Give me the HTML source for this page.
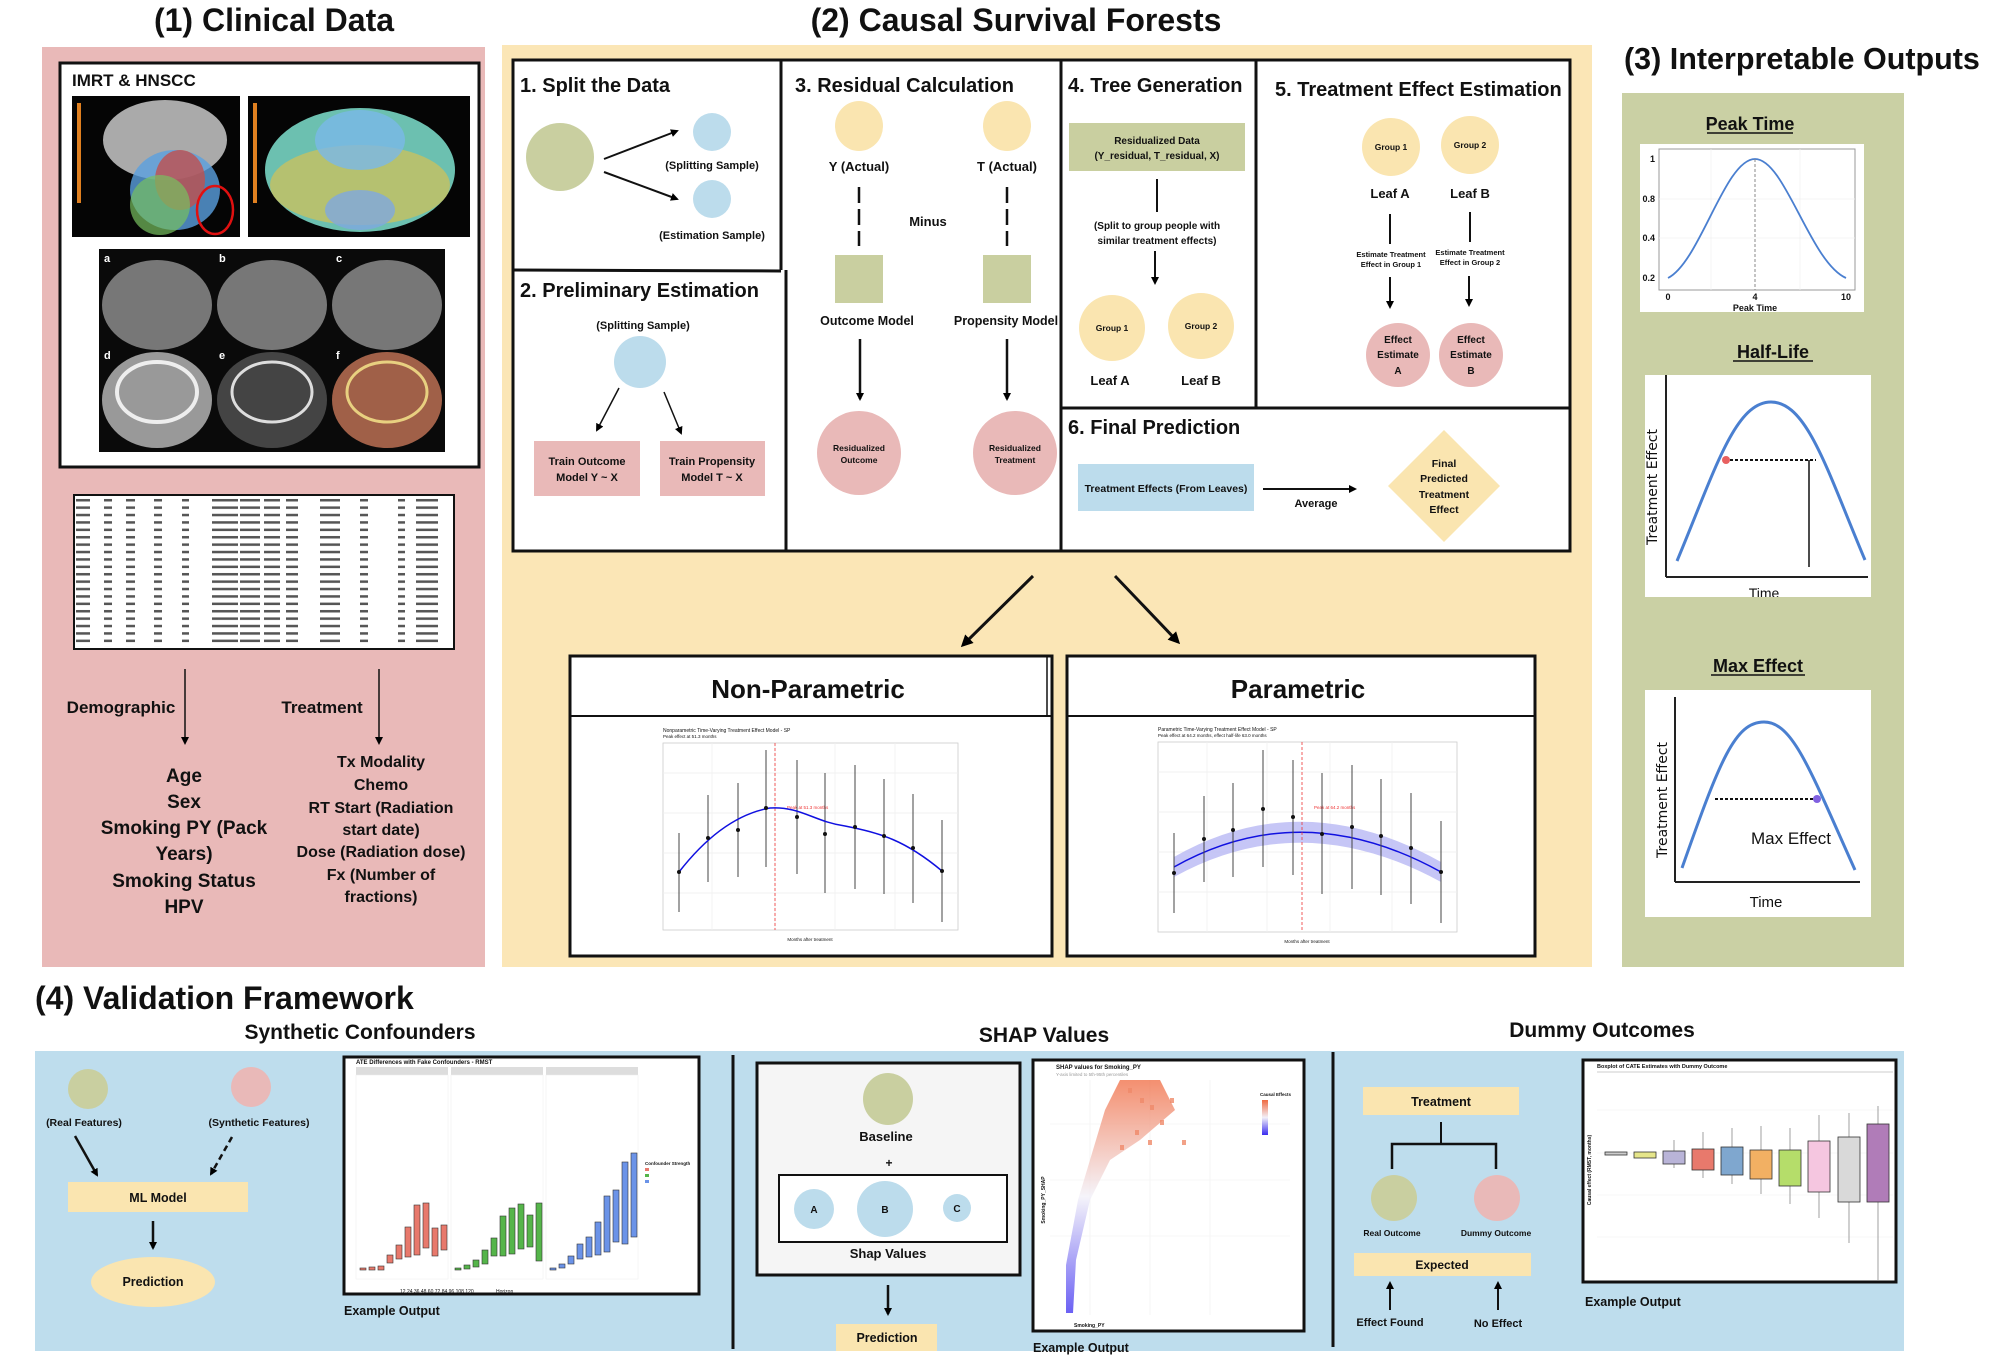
<!DOCTYPE html>
<html><head><meta charset="utf-8"><style>
html,body{margin:0;padding:0;background:#fff;}
svg{display:block;}
text{font-family:"Liberation Sans",Arial,sans-serif;font-weight:bold;fill:#111;}
</style></head><body>
<svg width="2006" height="1364" viewBox="0 0 2006 1364" xmlns="http://www.w3.org/2000/svg">
<defs>
<marker id="ah" markerWidth="8" markerHeight="8" refX="6" refY="4" orient="auto" markerUnits="userSpaceOnUse"><path d="M0,0 L8,4 L0,8 z" fill="#000"/></marker>
<marker id="ahb" markerWidth="12" markerHeight="12" refX="9" refY="6" orient="auto" markerUnits="userSpaceOnUse"><path d="M0,0 L12,6 L0,12 z" fill="#000"/></marker>
<pattern id="tbl" x="74" y="497" width="380" height="7.4" patternUnits="userSpaceOnUse">
<rect x="2" y="2" width="14" height="2.5" fill="#555"/><rect x="30" y="2" width="8" height="2.5" fill="#555"/><rect x="52" y="2" width="9" height="2.5" fill="#555"/><rect x="80" y="2" width="8" height="2.5" fill="#555"/><rect x="108" y="2" width="7" height="2.5" fill="#555"/><rect x="138" y="2" width="26" height="2.5" fill="#555"/><rect x="166" y="2" width="20" height="2.5" fill="#555"/><rect x="190" y="2" width="16" height="2.5" fill="#555"/><rect x="212" y="2" width="12" height="2.5" fill="#555"/><rect x="246" y="2" width="20" height="2.5" fill="#555"/><rect x="286" y="2" width="8" height="2.5" fill="#555"/><rect x="324" y="2" width="7" height="2.5" fill="#555"/><rect x="342" y="2" width="22" height="2.5" fill="#555"/>
</pattern>
<linearGradient id="sg" x1="0" y1="1" x2="0" y2="0"><stop offset="0" stop-color="#3a2cf0"/><stop offset="0.5" stop-color="#f2f0f8"/><stop offset="1" stop-color="#f06a40"/></linearGradient>
</defs>

<!-- Titles -->
<text x="274" y="31" font-size="32" text-anchor="middle">(1) Clinical Data</text>
<text x="1016" y="31" font-size="32" text-anchor="middle">(2) Causal Survival Forests</text>
<text x="1624" y="69" font-size="30.5">(3) Interpretable Outputs</text>
<text x="35" y="1009" font-size="32">(4) Validation Framework</text>

<!-- Panels -->
<rect x="42" y="47" width="443" height="920" fill="#e9b9b8"/>
<rect x="502" y="45" width="1090" height="922" fill="#fbe6b6"/>
<rect x="1622" y="93" width="282" height="874" fill="#cad0a4"/>
<rect x="35" y="1051" width="1869" height="300" fill="#bedded"/>

<!-- ===== Panel 1 ===== -->
<rect x="60" y="63" width="419" height="404" fill="#fff" stroke="#111" stroke-width="3"/>
<text x="72" y="86" font-size="17">IMRT &amp; HNSCC</text>
<rect x="72" y="96" width="168" height="141" fill="#050505"/>
<ellipse cx="165" cy="140" rx="62" ry="40" fill="#aaa"/>
<ellipse cx="175" cy="190" rx="45" ry="40" fill="#5aa0e0" opacity="0.8"/>
<ellipse cx="180" cy="180" rx="25" ry="30" fill="#c0504d" opacity="0.8"/>
<ellipse cx="160" cy="205" rx="30" ry="30" fill="#78c060" opacity="0.7"/>
<ellipse cx="215" cy="210" rx="18" ry="24" fill="none" stroke="#e01010" stroke-width="2.5"/>
<rect x="77" y="103" width="4" height="100" fill="#e08020"/>
<rect x="248" y="96" width="222" height="141" fill="#050505"/>
<ellipse cx="360" cy="170" rx="95" ry="62" fill="#6cc0b0"/>
<ellipse cx="360" cy="185" rx="90" ry="40" fill="#c8c060" opacity="0.8"/>
<ellipse cx="360" cy="140" rx="45" ry="30" fill="#7ab8e8" opacity="0.8"/>
<ellipse cx="360" cy="210" rx="35" ry="20" fill="#7fa8e0" opacity="0.8"/>
<rect x="253" y="103" width="4" height="100" fill="#e08020"/>
<rect x="99" y="249" width="346" height="203" fill="#0a0a0a"/>
<ellipse cx="157" cy="305" rx="55" ry="45" fill="#777"/><ellipse cx="272" cy="305" rx="55" ry="45" fill="#777"/><ellipse cx="387" cy="305" rx="55" ry="45" fill="#777"/>
<ellipse cx="157" cy="400" rx="55" ry="48" fill="#999"/><ellipse cx="272" cy="400" rx="55" ry="48" fill="#444"/><ellipse cx="387" cy="400" rx="55" ry="48" fill="#a06048"/>
<ellipse cx="157" cy="392" rx="40" ry="30" fill="none" stroke="#eee" stroke-width="4"/><ellipse cx="272" cy="392" rx="40" ry="30" fill="none" stroke="#ddd" stroke-width="3"/><ellipse cx="387" cy="392" rx="40" ry="30" fill="none" stroke="#e8d080" stroke-width="3"/>
<text x="104" y="262" font-size="11" style="fill:#fff">a</text><text x="219" y="262" font-size="11" style="fill:#fff">b</text><text x="336" y="262" font-size="11" style="fill:#fff">c</text>
<text x="104" y="359" font-size="11" style="fill:#fff">d</text><text x="219" y="359" font-size="11" style="fill:#fff">e</text><text x="336" y="359" font-size="11" style="fill:#fff">f</text>
<rect x="74" y="495" width="380" height="154" fill="#fff" stroke="#111" stroke-width="2"/>
<rect x="75" y="497" width="378" height="150" fill="url(#tbl)"/>
<line x1="185" y1="669" x2="185" y2="743" stroke="#111" stroke-width="1.5" marker-end="url(#ah)"/>
<line x1="379" y1="669" x2="379" y2="743" stroke="#111" stroke-width="1.5" marker-end="url(#ah)"/>
<text x="121" y="713" font-size="17" text-anchor="middle">Demographic</text>
<text x="322" y="713" font-size="17" text-anchor="middle">Treatment</text>
<g font-size="19" text-anchor="middle">
<text x="184" y="782">Age</text><text x="184" y="808">Sex</text><text x="184" y="834">Smoking PY (Pack</text><text x="184" y="860">Years)</text><text x="184" y="887">Smoking Status</text><text x="184" y="913">HPV</text>
</g>
<g font-size="16" text-anchor="middle">
<text x="381" y="767">Tx Modality</text><text x="381" y="790">Chemo</text><text x="381" y="813">RT Start (Radiation</text><text x="381" y="835">start date)</text><text x="381" y="857">Dose (Radiation dose)</text><text x="381" y="880">Fx (Number of</text><text x="381" y="902">fractions)</text>
</g>

<!-- ===== Panel 2 ===== -->
<rect x="513" y="60" width="1057" height="491" fill="#fff" stroke="#111" stroke-width="3"/>
<line x1="781" y1="60" x2="781" y2="270" stroke="#111" stroke-width="3"/>
<line x1="786" y1="270" x2="786" y2="551" stroke="#111" stroke-width="3"/>
<line x1="513" y1="270" x2="781" y2="271" stroke="#111" stroke-width="3"/>
<line x1="1061" y1="60" x2="1061" y2="551" stroke="#111" stroke-width="3"/>
<line x1="1256" y1="60" x2="1256" y2="408" stroke="#111" stroke-width="3"/>
<line x1="1061" y1="408" x2="1570" y2="408" stroke="#111" stroke-width="3"/>

<text x="520" y="92" font-size="20">1. Split the Data</text>
<circle cx="560" cy="157" r="34" fill="#c9cfa0"/>
<circle cx="712" cy="132" r="19" fill="#bcdcec"/>
<circle cx="712" cy="199" r="19" fill="#bcdcec"/>
<line x1="604" y1="159" x2="677" y2="131" stroke="#111" stroke-width="2" marker-end="url(#ah)"/>
<line x1="604" y1="172" x2="677" y2="199" stroke="#111" stroke-width="2" marker-end="url(#ah)"/>
<text x="712" y="169" font-size="11" text-anchor="middle">(Splitting Sample)</text>
<text x="712" y="239" font-size="11" text-anchor="middle">(Estimation Sample)</text>

<text x="520" y="297" font-size="20">2. Preliminary Estimation</text>
<text x="643" y="329" font-size="11" text-anchor="middle">(Splitting Sample)</text>
<ellipse cx="640" cy="362" rx="26" ry="26" fill="#bcdcec"/>
<line x1="619" y1="388" x2="597" y2="430" stroke="#111" stroke-width="1.5" marker-end="url(#ah)"/>
<line x1="664" y1="392" x2="681" y2="433" stroke="#111" stroke-width="1.5" marker-end="url(#ah)"/>
<rect x="534" y="441" width="106" height="55" fill="#e9b9b8"/>
<rect x="660" y="441" width="105" height="55" fill="#e9b9b8"/>
<g font-size="11" text-anchor="middle"><text x="587" y="465">Train Outcome</text><text x="587" y="481">Model Y ~ X</text><text x="712" y="465">Train Propensity</text><text x="712" y="481">Model T ~ X</text></g>

<text x="795" y="92" font-size="20">3. Residual Calculation</text>
<ellipse cx="859" cy="126" rx="24" ry="25" fill="#fae5b0"/>
<ellipse cx="1007" cy="126" rx="24" ry="25" fill="#fae5b0"/>
<text x="859" y="171" font-size="13" text-anchor="middle">Y (Actual)</text>
<text x="1007" y="171" font-size="13" text-anchor="middle">T (Actual)</text>
<line x1="859" y1="187" x2="859" y2="246" stroke="#111" stroke-width="2.5" stroke-dasharray="16,6"/>
<line x1="1007" y1="187" x2="1007" y2="246" stroke="#111" stroke-width="2.5" stroke-dasharray="16,6"/>
<text x="928" y="226" font-size="13" text-anchor="middle">Minus</text>
<rect x="835" y="255" width="48" height="48" fill="#c9cfa0"/>
<rect x="983" y="255" width="48" height="48" fill="#c9cfa0"/>
<text x="867" y="325" font-size="12.5" text-anchor="middle">Outcome Model</text>
<text x="1006" y="325" font-size="12.5" text-anchor="middle">Propensity Model</text>
<line x1="860" y1="339" x2="860" y2="399" stroke="#111" stroke-width="2.5" marker-end="url(#ah)"/>
<line x1="1007" y1="339" x2="1007" y2="399" stroke="#111" stroke-width="2.5" marker-end="url(#ah)"/>
<circle cx="859" cy="453" r="42" fill="#e9b9b8"/>
<circle cx="1015" cy="453" r="42" fill="#e9b9b8"/>
<g font-size="8.5" text-anchor="middle"><text x="859" y="451">Residualized</text><text x="859" y="463">Outcome</text><text x="1015" y="451">Residualized</text><text x="1015" y="463">Treatment</text></g>

<text x="1068" y="92" font-size="20">4. Tree Generation</text>
<rect x="1069" y="123" width="176" height="48" fill="#c9cfa0"/>
<g font-size="10" text-anchor="middle"><text x="1157" y="144">Residualized Data</text><text x="1157" y="159">(Y_residual, T_residual, X)</text>
<text x="1157" y="229">(Split to group people with</text><text x="1157" y="244">similar treatment effects)</text></g>
<line x1="1157" y1="179" x2="1157" y2="212" stroke="#111" stroke-width="2"/>
<line x1="1155" y1="251" x2="1155" y2="283" stroke="#111" stroke-width="2" marker-end="url(#ah)"/>
<circle cx="1112" cy="328" r="33" fill="#fae5b0"/>
<circle cx="1201" cy="326" r="33" fill="#fae5b0"/>
<g font-size="8.5" text-anchor="middle"><text x="1112" y="331">Group 1</text><text x="1201" y="329">Group 2</text></g>
<text x="1110" y="385" font-size="13" text-anchor="middle">Leaf A</text>
<text x="1201" y="385" font-size="13" text-anchor="middle">Leaf B</text>

<text x="1275" y="96" font-size="20">5. Treatment Effect Estimation</text>
<ellipse cx="1391" cy="147" rx="29" ry="29" fill="#fae5b0"/>
<ellipse cx="1470" cy="145" rx="29" ry="29" fill="#fae5b0"/>
<g font-size="8.5" text-anchor="middle"><text x="1391" y="150">Group 1</text><text x="1470" y="148">Group 2</text></g>
<text x="1390" y="198" font-size="13" text-anchor="middle">Leaf A</text>
<text x="1470" y="198" font-size="13" text-anchor="middle">Leaf B</text>
<line x1="1390" y1="214" x2="1390" y2="244" stroke="#111" stroke-width="2"/>
<line x1="1470" y1="212" x2="1470" y2="242" stroke="#111" stroke-width="2"/>
<g font-size="7.5" text-anchor="middle"><text x="1391" y="257">Estimate Treatment</text><text x="1391" y="267">Effect in Group 1</text><text x="1470" y="255">Estimate Treatment</text><text x="1470" y="265">Effect in Group 2</text></g>
<line x1="1390" y1="277" x2="1390" y2="307" stroke="#111" stroke-width="2" marker-end="url(#ah)"/>
<line x1="1469" y1="276" x2="1469" y2="305" stroke="#111" stroke-width="2" marker-end="url(#ah)"/>
<circle cx="1398" cy="355" r="32" fill="#e9b9b8"/>
<circle cx="1471" cy="355" r="32" fill="#e9b9b8"/>
<g font-size="10" text-anchor="middle"><text x="1398" y="343">Effect</text><text x="1398" y="358">Estimate</text><text x="1398" y="374">A</text><text x="1471" y="343">Effect</text><text x="1471" y="358">Estimate</text><text x="1471" y="374">B</text></g>

<text x="1068" y="434" font-size="20">6. Final Prediction</text>
<rect x="1078" y="464" width="176" height="47" fill="#bcdcec"/>
<text x="1166" y="492" font-size="10.5" text-anchor="middle">Treatment Effects (From Leaves)</text>
<line x1="1263" y1="489" x2="1355" y2="489" stroke="#111" stroke-width="2" marker-end="url(#ah)"/>
<text x="1316" y="507" font-size="11" text-anchor="middle">Average</text>
<polygon points="1444,430 1500,486 1444,542 1388,486" fill="#fae5b0"/>
<g font-size="10.5" text-anchor="middle"><text x="1444" y="467">Final</text><text x="1444" y="482">Predicted</text><text x="1444" y="498">Treatment</text><text x="1444" y="513">Effect</text></g>

<line x1="1033" y1="576" x2="963" y2="645" stroke="#111" stroke-width="3" marker-end="url(#ahb)"/>
<line x1="1115" y1="576" x2="1178" y2="642" stroke="#111" stroke-width="3" marker-end="url(#ahb)"/>

<!-- Non-parametric -->
<rect x="570" y="656" width="482" height="300" fill="#fff" stroke="#111" stroke-width="3"/>
<line x1="570" y1="716" x2="1052" y2="716" stroke="#111" stroke-width="2"/>
<line x1="1047" y1="656" x2="1047" y2="716" stroke="#111" stroke-width="1.5"/>
<text x="808" y="698" font-size="26" text-anchor="middle">Non-Parametric</text>
<text x="663" y="732" font-size="5" style="font-weight:normal">Nonparametric Time-Varying Treatment Effect Model - SP</text>
<text x="663" y="738" font-size="4.5" style="font-weight:normal">Peak effect at 51.3 months</text>
<rect x="663" y="743" width="295" height="187" fill="#fff" stroke="#ccc" stroke-width="0.8"/>
<g stroke="#eee" stroke-width="0.7"><line x1="663" y1="773" x2="958" y2="773"/><line x1="663" y1="813" x2="958" y2="813"/><line x1="663" y1="853" x2="958" y2="853"/><line x1="663" y1="893" x2="958" y2="893"/><line x1="712" y1="743" x2="712" y2="930"/><line x1="775" y1="743" x2="775" y2="930"/><line x1="835" y1="743" x2="835" y2="930"/><line x1="895" y1="743" x2="895" y2="930"/></g>
<line x1="775" y1="743" x2="775" y2="930" stroke="#e33" stroke-width="0.8" stroke-dasharray="3,2"/>
<text x="787" y="809" font-size="4.5" style="fill:#e33;font-weight:normal">Peak at 51.3 months</text>
<g stroke="#444" stroke-width="1">
<line x1="679" y1="833" x2="679" y2="912"/><line x1="708" y1="795" x2="708" y2="882"/><line x1="738" y1="783" x2="738" y2="877"/><line x1="766" y1="750" x2="766" y2="867"/><line x1="797" y1="760" x2="797" y2="874"/><line x1="825" y1="773" x2="825" y2="893"/><line x1="855" y1="765" x2="855" y2="889"/><line x1="884" y1="779" x2="884" y2="894"/><line x1="913" y1="794" x2="913" y2="903"/><line x1="942" y1="820" x2="942" y2="922"/>
</g>
<path d="M679,872 C700,845 730,815 770,808 C800,806 815,822 845,826 C880,833 905,840 942,871" fill="none" stroke="#1010e0" stroke-width="1.5"/>
<g fill="#111"><circle cx="679" cy="872" r="2"/><circle cx="708" cy="838" r="2"/><circle cx="738" cy="830" r="2"/><circle cx="766" cy="808" r="2"/><circle cx="797" cy="817" r="2"/><circle cx="825" cy="834" r="2"/><circle cx="855" cy="827" r="2"/><circle cx="884" cy="836" r="2"/><circle cx="913" cy="848" r="2"/><circle cx="942" cy="871" r="2"/></g>
<text x="810" y="941" font-size="4.5" text-anchor="middle" style="font-weight:normal">Months after treatment</text>

<!-- Parametric -->
<rect x="1067" y="656" width="468" height="300" fill="#fff" stroke="#111" stroke-width="3"/>
<line x1="1067" y1="716" x2="1535" y2="716" stroke="#111" stroke-width="2"/>
<text x="1298" y="698" font-size="26" text-anchor="middle">Parametric</text>
<text x="1158" y="731" font-size="5" style="font-weight:normal">Parametric Time-Varying Treatment Effect Model - SP</text>
<text x="1158" y="737" font-size="4.5" style="font-weight:normal">Peak effect at 64.2 months, effect half-life 63.0 months</text>
<rect x="1158" y="742" width="299" height="190" fill="#fff" stroke="#ccc" stroke-width="0.8"/>
<g stroke="#eee" stroke-width="0.7"><line x1="1158" y1="772" x2="1457" y2="772"/><line x1="1158" y1="812" x2="1457" y2="812"/><line x1="1158" y1="852" x2="1457" y2="852"/><line x1="1158" y1="892" x2="1457" y2="892"/><line x1="1207" y1="742" x2="1207" y2="932"/><line x1="1267" y1="742" x2="1267" y2="932"/><line x1="1330" y1="742" x2="1330" y2="932"/><line x1="1392" y1="742" x2="1392" y2="932"/></g>
<path d="M1174,857 Q1302,784 1441,862 L1441,882 Q1302,806 1174,877 Z" fill="#b8b8f4" opacity="0.8"/>
<path d="M1174,867 Q1302,795 1441,872" fill="none" stroke="#1010e0" stroke-width="1.5"/>
<line x1="1302" y1="742" x2="1302" y2="932" stroke="#e33" stroke-width="0.8" stroke-dasharray="3,2"/>
<text x="1314" y="809" font-size="4.5" style="fill:#e33;font-weight:normal">Peak at 64.2 months</text>
<g stroke="#444" stroke-width="1">
<line x1="1174" y1="833" x2="1174" y2="913"/><line x1="1204" y1="796" x2="1204" y2="882"/><line x1="1233" y1="783" x2="1233" y2="877"/><line x1="1263" y1="750" x2="1263" y2="867"/><line x1="1293" y1="760" x2="1293" y2="875"/><line x1="1322" y1="773" x2="1322" y2="894"/><line x1="1352" y1="765" x2="1352" y2="889"/><line x1="1381" y1="779" x2="1381" y2="895"/><line x1="1411" y1="793" x2="1411" y2="904"/><line x1="1441" y1="821" x2="1441" y2="923"/>
</g>
<g fill="#111"><circle cx="1174" cy="873" r="2"/><circle cx="1204" cy="839" r="2"/><circle cx="1233" cy="830" r="2"/><circle cx="1263" cy="809" r="2"/><circle cx="1293" cy="817" r="2"/><circle cx="1322" cy="834" r="2"/><circle cx="1352" cy="827" r="2"/><circle cx="1381" cy="836" r="2"/><circle cx="1411" cy="848" r="2"/><circle cx="1441" cy="872" r="2"/></g>
<text x="1307" y="943" font-size="4.5" text-anchor="middle" style="font-weight:normal">Months after treatment</text>

<!-- ===== Panel 3 ===== -->
<text x="1750" y="130" font-size="18" text-anchor="middle">Peak Time</text>
<line x1="1707" y1="133" x2="1793" y2="133" stroke="#111" stroke-width="1.5"/>
<rect x="1640" y="144" width="224" height="168" fill="#fff"/>
<rect x="1659" y="149" width="196" height="141" fill="none" stroke="#999" stroke-width="1"/>
<g stroke="#f0f0f0" stroke-width="0.7"><line x1="1659" y1="199" x2="1855" y2="199"/><line x1="1659" y1="238" x2="1855" y2="238"/><line x1="1711" y1="149" x2="1711" y2="290"/><line x1="1800" y1="149" x2="1800" y2="290"/></g>
<path d="M1668,278 C1700,262 1725,159 1755,159 C1785,159 1810,262 1846,278" fill="none" stroke="#4a7fd0" stroke-width="1.8"/>
<line x1="1755" y1="159" x2="1755" y2="290" stroke="#888" stroke-width="1" stroke-dasharray="3,2"/>
<g font-size="9" style="font-weight:normal" text-anchor="end"><text x="1655" y="162">1</text><text x="1655" y="202">0.8</text><text x="1655" y="241">0.4</text><text x="1655" y="281">0.2</text></g>
<g font-size="9" style="font-weight:normal" text-anchor="middle"><text x="1668" y="300">0</text><text x="1755" y="300">4</text><text x="1846" y="300">10</text><text x="1755" y="311">Peak Time</text></g>

<text x="1773" y="358" font-size="18" text-anchor="middle">Half-Life</text>
<line x1="1733" y1="361" x2="1813" y2="361" stroke="#111" stroke-width="1.5"/>
<rect x="1645" y="375" width="226" height="222" fill="#fff"/>
<line x1="1666" y1="375" x2="1666" y2="577" stroke="#222" stroke-width="2"/>
<line x1="1666" y1="577" x2="1868" y2="577" stroke="#222" stroke-width="2"/>
<path d="M1677,561 C1715,470 1735,402 1771,402 C1807,402 1827,470 1865,560" fill="none" stroke="#4a7fd0" stroke-width="3"/>
<circle cx="1726" cy="460" r="4" fill="#e86060"/>
<line x1="1730" y1="460" x2="1816" y2="460" stroke="#111" stroke-width="2" stroke-dasharray="3,2"/>
<line x1="1809" y1="460" x2="1809" y2="567" stroke="#111" stroke-width="1.5"/>
<text transform="translate(1657,487) rotate(-90)" font-size="14" text-anchor="middle" style="font-weight:normal;font-family:'DejaVu Sans',sans-serif">Treatment Effect</text>
<text x="1764" y="598" font-size="14" text-anchor="middle" style="font-weight:normal">Time</text>
<rect x="1640" y="597" width="240" height="10" fill="#cad0a4"/>

<text x="1758" y="672" font-size="18" text-anchor="middle">Max Effect</text>
<line x1="1711" y1="675" x2="1805" y2="675" stroke="#111" stroke-width="1.5"/>
<rect x="1645" y="690" width="226" height="227" fill="#fff"/>
<line x1="1675" y1="697" x2="1675" y2="882" stroke="#222" stroke-width="2"/>
<line x1="1675" y1="882" x2="1860" y2="882" stroke="#222" stroke-width="2"/>
<path d="M1682,868 C1720,760 1735,722 1764,722 C1793,722 1810,770 1855,870" fill="none" stroke="#4a7fd0" stroke-width="3"/>
<line x1="1715" y1="799" x2="1815" y2="799" stroke="#111" stroke-width="2" stroke-dasharray="3,2"/>
<circle cx="1817" cy="799" r="4" fill="#8060e0"/>
<text x="1791" y="844" font-size="17" text-anchor="middle" style="font-weight:normal">Max Effect</text>
<text transform="translate(1667,800) rotate(-90)" font-size="14" text-anchor="middle" style="font-weight:normal;font-family:'DejaVu Sans',sans-serif">Treatment Effect</text>
<text x="1766" y="907" font-size="15" text-anchor="middle" style="font-weight:normal">Time</text>

<!-- ===== Panel 4 ===== -->
<text x="360" y="1039" font-size="21" text-anchor="middle">Synthetic Confounders</text>
<text x="1044" y="1042" font-size="21" text-anchor="middle">SHAP Values</text>
<text x="1602" y="1037" font-size="21" text-anchor="middle">Dummy Outcomes</text>
<line x1="733" y1="1055" x2="733" y2="1349" stroke="#111" stroke-width="3"/>
<line x1="1333" y1="1052" x2="1333" y2="1347" stroke="#111" stroke-width="3"/>

<circle cx="88" cy="1089" r="20" fill="#c9cfa0"/>
<circle cx="251" cy="1087" r="20" fill="#e9b9b8"/>
<text x="84" y="1126" font-size="10.5" text-anchor="middle">(Real Features)</text>
<text x="259" y="1126" font-size="10.5" text-anchor="middle">(Synthetic Features)</text>
<line x1="75" y1="1136" x2="97" y2="1175" stroke="#111" stroke-width="2.5" marker-end="url(#ah)"/>
<line x1="232" y1="1137" x2="211" y2="1174" stroke="#111" stroke-width="2.5" stroke-dasharray="6,4" marker-end="url(#ah)"/>
<rect x="68" y="1182" width="180" height="30" fill="#fae5b0"/>
<text x="158" y="1202" font-size="12.5" text-anchor="middle">ML Model</text>
<line x1="153" y1="1221" x2="153" y2="1248" stroke="#111" stroke-width="2.5" marker-end="url(#ah)"/>
<ellipse cx="153" cy="1282" rx="62" ry="25" fill="#fae5b0"/>
<text x="153" y="1286" font-size="12.5" text-anchor="middle">Prediction</text>

<rect x="344" y="1057" width="355" height="237" fill="#fff" stroke="#111" stroke-width="3"/>
<text x="356" y="1064" font-size="6">ATE Differences with Fake Confounders - RMST</text>
<g fill="#ddd"><rect x="356" y="1067" width="92" height="8"/><rect x="451" y="1067" width="92" height="8"/><rect x="546" y="1067" width="92" height="8"/></g>
<g fill="#fff" stroke="#eee" stroke-width="0.5"><rect x="356" y="1075" width="92" height="204"/><rect x="451" y="1075" width="92" height="204"/><rect x="546" y="1075" width="92" height="204"/></g>
<g stroke="#333" stroke-width="0.6">
<rect x="360" y="1268" width="6" height="2" fill="#e8796c"/><rect x="369" y="1267" width="6" height="3" fill="#e8796c"/><rect x="378" y="1266" width="6" height="4" fill="#e8796c"/><rect x="387" y="1255" width="6" height="8" fill="#e8796c"/><rect x="396" y="1245" width="6" height="14" fill="#e8796c"/><rect x="405" y="1227" width="6" height="30" fill="#e8796c"/><rect x="414" y="1205" width="6" height="50" fill="#e8796c"/><rect x="423" y="1203" width="6" height="45" fill="#e8796c"/><rect x="432" y="1228" width="6" height="28" fill="#e8796c"/><rect x="441" y="1225" width="6" height="25" fill="#e8796c"/>
<rect x="455" y="1268" width="6" height="2" fill="#55b54a"/><rect x="464" y="1265" width="6" height="4" fill="#55b54a"/><rect x="473" y="1260" width="6" height="7" fill="#55b54a"/><rect x="482" y="1250" width="6" height="14" fill="#55b54a"/><rect x="491" y="1238" width="6" height="18" fill="#55b54a"/><rect x="500" y="1216" width="6" height="40" fill="#55b54a"/><rect x="509" y="1208" width="6" height="46" fill="#55b54a"/><rect x="518" y="1204" width="6" height="45" fill="#55b54a"/><rect x="527" y="1215" width="6" height="32" fill="#55b54a"/><rect x="536" y="1203" width="6" height="58" fill="#55b54a"/>
<rect x="550" y="1268" width="6" height="2" fill="#6b93e8"/><rect x="559" y="1264" width="6" height="4" fill="#6b93e8"/><rect x="568" y="1256" width="6" height="8" fill="#6b93e8"/><rect x="577" y="1244" width="6" height="15" fill="#6b93e8"/><rect x="586" y="1237" width="6" height="20" fill="#6b93e8"/><rect x="595" y="1222" width="6" height="33" fill="#6b93e8"/><rect x="604" y="1196" width="6" height="56" fill="#6b93e8"/><rect x="613" y="1190" width="6" height="52" fill="#6b93e8"/><rect x="622" y="1162" width="6" height="82" fill="#6b93e8"/><rect x="631" y="1153" width="6" height="84" fill="#6b93e8"/>
</g>
<text x="400" y="1293" font-size="5" style="font-weight:normal">12 24 36 48 60 72 84 96 108 120</text>
<text x="496" y="1293" font-size="5" style="font-weight:normal">Horizon</text>
<text x="645" y="1165" font-size="4.5">Confounder Strength</text>
<rect x="645" y="1168" width="4" height="3" fill="#e8796c"/><rect x="645" y="1174" width="4" height="3" fill="#55b54a"/><rect x="645" y="1180" width="4" height="3" fill="#6b93e8"/>
<text x="344" y="1315" font-size="12.5">Example Output</text>

<rect x="757" y="1063" width="263" height="212" fill="#f5f5f5" stroke="#111" stroke-width="3"/>
<ellipse cx="888" cy="1099" rx="25" ry="26" fill="#c9cfa0"/>
<text x="886" y="1141" font-size="13" text-anchor="middle">Baseline</text>
<text x="889" y="1167" font-size="12" text-anchor="middle">+</text>
<rect x="779" y="1175" width="228" height="67" fill="#fff" stroke="#111" stroke-width="2"/>
<circle cx="814" cy="1209" r="20" fill="#bcdcec"/>
<circle cx="885" cy="1209" r="28" fill="#bcdcec"/>
<circle cx="957" cy="1208" r="14" fill="#bcdcec"/>
<g font-size="10" text-anchor="middle"><text x="814" y="1213">A</text><text x="885" y="1213">B</text><text x="957" y="1212">C</text></g>
<text x="888" y="1258" font-size="13" text-anchor="middle">Shap Values</text>
<line x1="888" y1="1285" x2="888" y2="1314" stroke="#111" stroke-width="2.5" marker-end="url(#ah)"/>
<rect x="836" y="1324" width="101" height="27" fill="#fae5b0"/>
<text x="887" y="1342" font-size="12.5" text-anchor="middle">Prediction</text>

<rect x="1033" y="1060" width="271" height="271" fill="#fff" stroke="#111" stroke-width="3"/>
<text x="1056" y="1069" font-size="6">SHAP values for Smoking_PY</text>
<text x="1056" y="1076" font-size="4.5" style="fill:#999;font-weight:normal">Y-axis limited to 5th-95th percentiles</text>
<g stroke="#f0f0f0" stroke-width="0.6"><line x1="1050" y1="1124" x2="1290" y2="1124"/><line x1="1050" y1="1180" x2="1290" y2="1180"/><line x1="1050" y1="1236" x2="1290" y2="1236"/><line x1="1090" y1="1080" x2="1090" y2="1315"/><line x1="1150" y1="1080" x2="1150" y2="1315"/><line x1="1210" y1="1080" x2="1210" y2="1315"/></g>
<path d="M1066,1313 L1066,1265 L1078,1200 L1090,1160 L1105,1110 L1120,1080 L1160,1080 L1175,1110 L1140,1140 L1110,1160 L1090,1200 L1076,1260 L1073,1313 Z" fill="url(#sg)" opacity="0.75"/>
<g fill="#f08a6a" opacity="0.8"><rect x="1128" y="1088" width="4" height="5"/><rect x="1140" y="1098" width="4" height="5"/><rect x="1150" y="1105" width="4" height="5"/><rect x="1160" y="1120" width="4" height="5"/><rect x="1135" y="1130" width="4" height="5"/><rect x="1148" y="1140" width="4" height="5"/><rect x="1170" y="1098" width="4" height="5"/><rect x="1120" y="1145" width="4" height="5"/><rect x="1182" y="1140" width="4" height="5"/></g>
<text x="1074" y="1327" font-size="5">Smoking_PY</text>
<text transform="translate(1045,1200) rotate(-90)" font-size="5" text-anchor="middle">Smoking_PY_SHAP</text>
<rect x="1262" y="1100" width="6" height="35" fill="url(#sg)"/>
<text x="1260" y="1096" font-size="4.5">Causal Effects</text>
<text x="1033" y="1352" font-size="12.5">Example Output</text>

<rect x="1363" y="1087" width="156" height="28" fill="#fae5b0"/>
<text x="1441" y="1106" font-size="12.5" text-anchor="middle">Treatment</text>
<line x1="1441" y1="1122" x2="1441" y2="1144" stroke="#111" stroke-width="2"/>
<polyline points="1392,1169 1392,1144 1496,1144 1496,1169" fill="none" stroke="#111" stroke-width="2.5"/>
<ellipse cx="1394" cy="1198" rx="23" ry="23" fill="#c9cfa0"/>
<ellipse cx="1497" cy="1198" rx="23" ry="23" fill="#e9b9b8"/>
<text x="1392" y="1236" font-size="8.5" text-anchor="middle">Real Outcome</text>
<text x="1496" y="1236" font-size="8.5" text-anchor="middle">Dummy Outcome</text>
<rect x="1354" y="1253" width="177" height="23" fill="#fae5b0"/>
<text x="1442" y="1269" font-size="12" text-anchor="middle">Expected</text>
<line x1="1390" y1="1310" x2="1390" y2="1283" stroke="#111" stroke-width="2" marker-end="url(#ah)"/>
<line x1="1498" y1="1310" x2="1498" y2="1283" stroke="#111" stroke-width="2" marker-end="url(#ah)"/>
<text x="1390" y="1326" font-size="11" text-anchor="middle">Effect Found</text>
<text x="1498" y="1327" font-size="11" text-anchor="middle">No Effect</text>

<rect x="1583" y="1060" width="313" height="222" fill="#fff" stroke="#111" stroke-width="3"/>
<text x="1597" y="1068" font-size="5.5">Boxplot of CATE Estimates with Dummy Outcome</text>
<line x1="1597" y1="1072" x2="1893" y2="1072" stroke="#ccc" stroke-width="1"/>
<g stroke="#f0f0f0" stroke-width="0.6"><line x1="1597" y1="1110" x2="1893" y2="1110"/><line x1="1597" y1="1153" x2="1893" y2="1153"/><line x1="1597" y1="1195" x2="1893" y2="1195"/><line x1="1597" y1="1237" x2="1893" y2="1237"/></g>
<g stroke="#888" stroke-width="0.8">
<line x1="1674" y1="1140" x2="1674" y2="1168"/><line x1="1703" y1="1132" x2="1703" y2="1178"/><line x1="1732" y1="1128" x2="1732" y2="1184"/><line x1="1761" y1="1126" x2="1761" y2="1194"/><line x1="1790" y1="1128" x2="1790" y2="1204"/><line x1="1819" y1="1115" x2="1819" y2="1218"/><line x1="1849" y1="1113" x2="1849" y2="1243"/><line x1="1878" y1="1106" x2="1878" y2="1280"/>
</g>
<g stroke="#333" stroke-width="0.8">
<rect x="1605" y="1152" width="22" height="3" fill="#ccc"/><rect x="1634" y="1152" width="22" height="6" fill="#e5e58a"/><rect x="1663" y="1151" width="22" height="13" fill="#b9b4d8"/><rect x="1692" y="1149" width="22" height="21" fill="#e8796c"/><rect x="1721" y="1147" width="22" height="28" fill="#7fa7cf"/><rect x="1750" y="1150" width="22" height="29" fill="#f2b063"/><rect x="1779" y="1150" width="22" height="36" fill="#b5dd6a"/><rect x="1808" y="1141" width="22" height="51" fill="#f5c6e0"/><rect x="1838" y="1137" width="22" height="65" fill="#d9d9d9"/><rect x="1867" y="1124" width="22" height="78" fill="#b07cb8"/>
</g>
<text transform="translate(1591,1170) rotate(-90)" font-size="5" text-anchor="middle">Causal effect (RMST, months)</text>
<text x="1585" y="1306" font-size="12.5">Example Output</text>
</svg>
</body></html>
